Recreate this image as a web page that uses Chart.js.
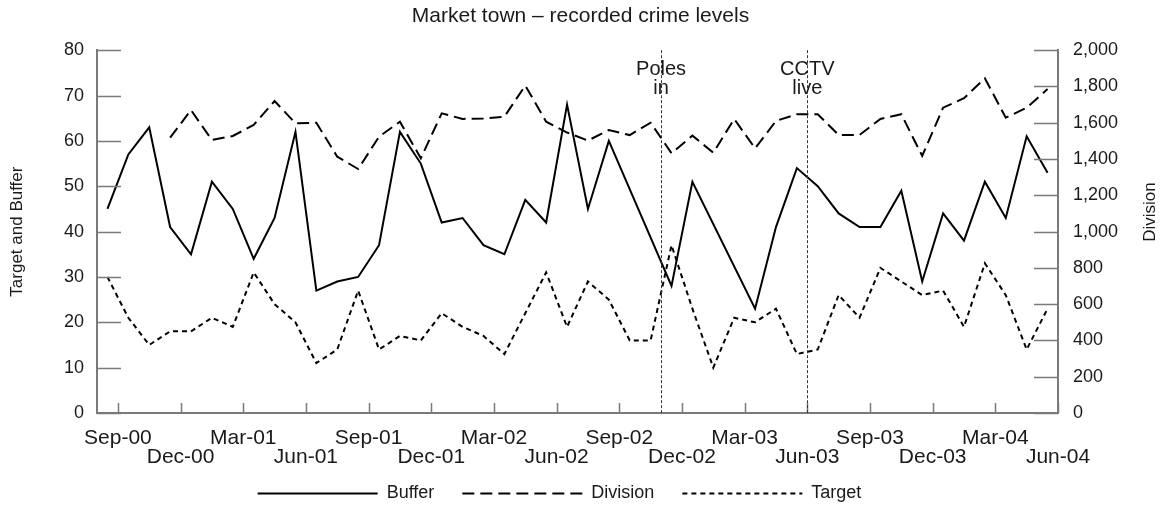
<!DOCTYPE html>
<html><head><meta charset="utf-8">
<script src="https://cdn.jsdelivr.net/npm/chart.js@4.4.0/dist/chart.umd.min.js"></script>
<style>html,body{margin:0;padding:0;background:#fff;}#wrap{width:1161px;height:509px;}</style>
</head><body><div id="wrap"><canvas id="c" width="1161" height="509"></canvas></div>
<script>
// monthly points, Aug-00 .. May-04 (46 months), plotted at mid-month
const months = ['Aug-00','Sep-00','Oct-00','Nov-00','Dec-00','Jan-01','Feb-01','Mar-01','Apr-01','May-01','Jun-01','Jul-01',
  'Aug-01','Sep-01','Oct-01','Nov-01','Dec-01','Jan-02','Feb-02','Mar-02','Apr-02','May-02','Jun-02','Jul-02',
  'Aug-02','Sep-02','Oct-02','Nov-02','Dec-02','Jan-03','Feb-03','Mar-03','Apr-03','May-03','Jun-03','Jul-03',
  'Aug-03','Sep-03','Oct-03','Nov-03','Dec-03','Jan-04','Feb-04','Mar-04','Apr-04','May-04'];
const buffer = [45,57,63,41,35,51,45,34,43,62,27,29,30,37,62,55,42,43,37,35,47,42,68,45,60,null,null,28,51,null,null,23,41,54,50,44,41,41,49,29,44,38,51,43,61,53];
const division = [null,null,null,1518,1670,1505,1527,1588,1720,1597,1600,1413,1345,1523,1606,1404,1652,1621,1624,1633,1805,1606,1546,1502,1560,1532,1600,1432,1529,1435,1621,1459,1610,1647,1647,1533,1533,1621,1647,1417,1683,1735,1845,1628,1683,1786];
const target = [30,21,15,18,18,21,19,31,24,20,11,14,27,14,17,16,22,19,17,13,22,31,19,29,25,16,16,37,23,10,21,20,23,13,14,26,21,32,29,26,27,19,33,26,14,23];
// x tick labels sit on month boundaries (months counted from start of Aug-00)
const tickLabels = ['Sep-00','Dec-00','Mar-01','Jun-01','Sep-01','Dec-01','Mar-02','Jun-02','Sep-02','Dec-02','Mar-03','Jun-03','Sep-03','Dec-03','Mar-04','Jun-04'];
const tickPositions = [1,4,7,10,13,16,19,22,25,28,31,34,37,40,43,46];
const leftTicks = [0,10,20,30,40,50,60,70,80];
const rightTicks = [0,200,400,600,800,1000,1200,1400,1600,1800,2000];
const events = [{pos:27, text:['Poles','in']},{pos:34, text:['CCTV','live']}];

const FA = '"Liberation Sans",Arial,sans-serif';
const AXIS = '#7a7a7a';
const TXT = '#1a1a1a';
const LEG_FONT = 18, LEG_PAD = 28, LEG_BOX = 120;
const toXY = arr => arr.map((v,i)=>({x:i+0.5, y:v}));

const deco = {
  id:'deco',
  afterLayout(chart){
    const lg = chart.legend; if(!lg) return;
    lg.top = 493 - LEG_PAD - LEG_FONT/2; lg.bottom = chart.height;
    lg.left -= 42;
  },
  afterDraw(chart){
    const ctx = chart.ctx, a = chart.chartArea, sx = chart.scales.x, sy = chart.scales.y, sy2 = chart.scales.y2;
    ctx.save();
    ctx.strokeStyle = AXIS; ctx.lineWidth = 1.5;
    ctx.beginPath();
    leftTicks.forEach(v=>{const p=Math.round(sy.getPixelForValue(v))+0.5; ctx.moveTo(a.left,p); ctx.lineTo(a.left+24,p);});
    rightTicks.forEach(v=>{const p=Math.round(sy2.getPixelForValue(v))+0.5; ctx.moveTo(a.right-24,p); ctx.lineTo(a.right,p);});
    tickPositions.forEach(v=>{const p=Math.round(sx.getPixelForValue(v))+0.5; ctx.moveTo(p,a.bottom); ctx.lineTo(p,a.bottom-10);});
    ctx.stroke();
    // event lines
    ctx.strokeStyle = '#333'; ctx.lineWidth = 1; ctx.setLineDash([3,2]);
    events.forEach(e=>{
      const p = Math.round(sx.getPixelForValue(e.pos))+0.5;
      ctx.beginPath(); ctx.moveTo(p,a.top); ctx.lineTo(p,a.bottom); ctx.stroke();
    });
    ctx.setLineDash([]);
    ctx.fillStyle = TXT; ctx.font = '20px '+FA; ctx.textAlign='center'; ctx.textBaseline='middle';
    events.forEach(e=>{
      const p = sx.getPixelForValue(e.pos);
      e.text.forEach((t,k)=>ctx.fillText(t,p,69+k*19));
    });
    // axis titles
    ctx.font = '17px '+FA;
    ctx.save(); ctx.translate(17,(a.top+a.bottom)/2); ctx.rotate(-Math.PI/2); ctx.fillText('Target and Buffer',0,0); ctx.restore();
    ctx.save(); ctx.translate(1150,212); ctx.rotate(-Math.PI/2); ctx.fillText('Division',0,0); ctx.restore();
    // legend line samples (dashed like the series)
    const lg = chart.legend;
    if(lg && lg.legendHitBoxes){
      ctx.strokeStyle = '#000'; ctx.lineWidth = 2;
      lg.legendHitBoxes.forEach((hb,i)=>{
        const ds = chart.data.datasets[i];
        const yy = Math.round(hb.top + hb.height/2)+0.5;
        ctx.setLineDash(ds.borderDash || []);
        ctx.beginPath(); ctx.moveTo(hb.left, yy); ctx.lineTo(hb.left+LEG_BOX, yy); ctx.stroke();
      });
      ctx.setLineDash([]);
    }
    ctx.restore();
  }
};

new Chart(document.getElementById('c'), {
  type:'line',
  data:{ datasets:[
    {label:'Buffer', data:toXY(buffer), yAxisID:'y', borderColor:'#000', backgroundColor:'#000', borderWidth:2, pointRadius:0, spanGaps:true, tension:0},
    {label:'Division', data:toXY(division), yAxisID:'y2', borderColor:'#000', backgroundColor:'#000', borderWidth:2, borderDash:[12,6], pointRadius:0, spanGaps:false, tension:0},
    {label:'Target', data:toXY(target), yAxisID:'y', borderColor:'#000', backgroundColor:'#000', borderWidth:2, borderDash:[5,4], pointRadius:0, tension:0}
  ]},
  options:{
    responsive:false, animation:false, devicePixelRatio:1,
    layout:{padding:{left:0,right:0,top:0,bottom:0}},
    plugins:{
      title:{display:true, text:'Market town \u2013 recorded crime levels', color:TXT, font:{family:FA, size:21, weight:'normal'}, padding:{top:4,bottom:21}},
      legend:{position:'bottom', maxHeight:26, labels:{boxWidth:LEG_BOX, boxHeight:2, color:TXT, font:{family:FA,size:LEG_FONT}, padding:LEG_PAD,
        generateLabels(chart){
          const items = Chart.defaults.plugins.legend.labels.generateLabels(chart);
          items.forEach(it=>{ it.fillStyle='rgba(0,0,0,0)'; it.strokeStyle='rgba(0,0,0,0)'; it.lineWidth=0; });
          return items;
        }}},
      tooltip:{enabled:false}
    },
    scales:{
      x:{type:'linear', min:0, max:46,
        afterBuildTicks(s){ s.ticks = tickPositions.map(v=>({value:v})); },
        afterFit(s){ const lh = s.chart.legend ? s.chart.legend.height : 0; s.height = Math.max(10, 509 - 413 - lh); },
        grid:{display:false, drawTicks:false}, border:{color:AXIS, width:2},
        ticks:{autoSkip:false, maxRotation:0, minRotation:0, padding:15, color:TXT, font:{family:FA,size:21, lineHeight:0.93},
          callback(v){ const k = tickPositions.indexOf(v); if(k<0) return ''; return k%2===0 ? tickLabels[k] : ['',tickLabels[k]]; }}
      },
      y:{position:'left', min:0, max:80,
        afterBuildTicks(s){ s.ticks = leftTicks.map(v=>({value:v})); },
        afterFit(s){ s.width = 97; },
        grid:{display:false, drawTicks:false}, border:{color:AXIS, width:2},
        ticks:{padding:13, color:TXT, font:{family:FA,size:18}}
      },
      y2:{position:'right', min:0, max:2000,
        afterBuildTicks(s){ s.ticks = rightTicks.map(v=>({value:v})); },
        afterFit(s){ s.width = 103; },
        grid:{display:false, drawTicks:false}, border:{color:AXIS, width:2},
        ticks:{padding:15, color:TXT, font:{family:FA,size:18}, callback:v=>v.toLocaleString('en-US')}
      }
    }
  },
  plugins:[deco]
});
</script></body></html>
